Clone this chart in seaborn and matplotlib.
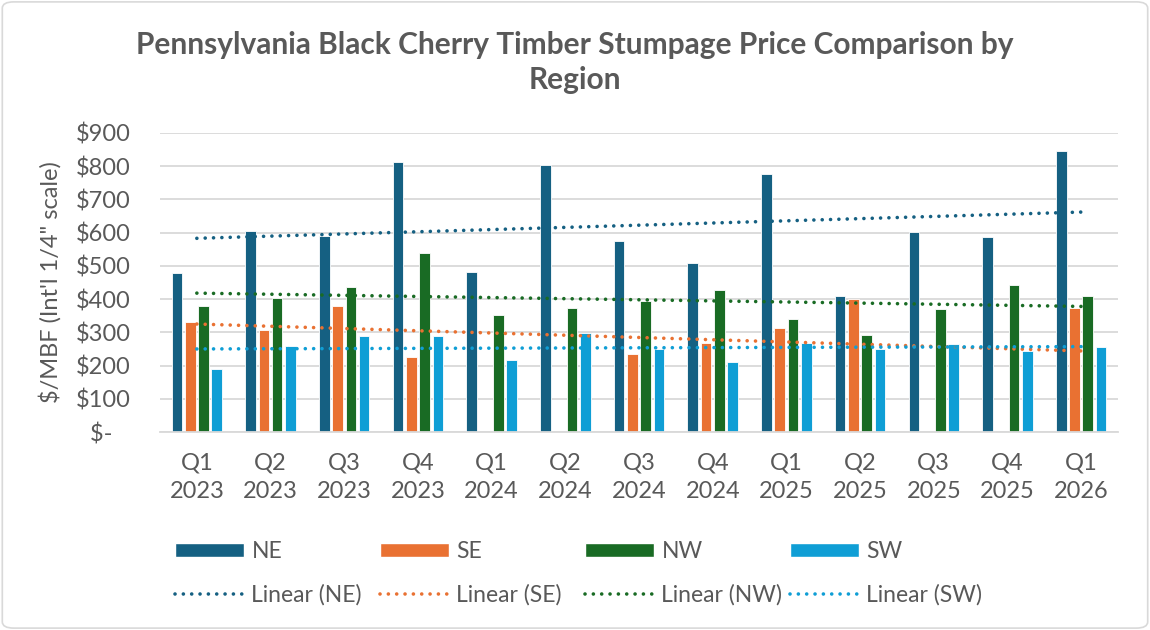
import numpy as np
import pandas as pd
import matplotlib
matplotlib.use("Agg")
import matplotlib.pyplot as plt
from matplotlib.patches import Patch, FancyBboxPatch
from matplotlib.lines import Line2D
import seaborn as sns

quarters = ["Q1\n2023", "Q2\n2023", "Q3\n2023", "Q4\n2023", "Q1\n2024", "Q2\n2024",
            "Q3\n2024", "Q4\n2024", "Q1\n2025", "Q2\n2025", "Q3\n2025", "Q4\n2025", "Q1\n2026"]
regions = ["NE", "SE", "NW", "SW"]
ne = [480, 606, 589, 813, 481, 804, 574, 508, 776, 408, 602, 586, 845]
se = [330, 308, 380, 227, np.nan, np.nan, 235, 267, 314, 399, np.nan, np.nan, 374]
nw = [380, 404, 437, 538, 351, 372, 395, 426, 340, 292, 370, 443, 410]
sw = [191, 258, 290, 290, 216, 298, 249, 212, 269, 251, 265, 243, 255]
# linear trendline values (first and last quarter)
trend_start = [583, 325, 418, 250]
trend_end = [662, 244, 378, 257]
yticks = [0, 100, 200, 300, 400, 500, 600, 700, 800, 900]
ytick_labels = ["$-   ", "$100", "$200", "$300", "$400", "$500", "$600", "$700", "$800", "$900"]

colors = ["#156082", "#E97132", "#196B24", "#0F9ED5"]
txt = "#595959"

sns.set_theme(style="white")
plt.rcParams["font.family"] = ["Lato", "DejaVu Sans"]

series = [ne, se, nw, sw]
df = pd.DataFrame({
    "quarter": quarters * 4,
    "region": sum([[r] * len(quarters) for r in regions], []),
    "price": sum([list(s) for s in series], []),
})
df = df.dropna()

fig = plt.figure(figsize=(11.5, 6.3), dpi=100)
ax = fig.add_axes([160 / 1150, 1 - 432 / 630, 958 / 1150, 299 / 630])

sns.barplot(data=df, x="quarter", y="price", hue="region", order=quarters,
            hue_order=regions, palette=colors, saturation=1, width=0.72, gap=0.2,
            edgecolor="white", linewidth=0.6, errorbar=None, legend=False, ax=ax)

dots = (0, (0.01, 2.3))
for i in range(4):
    ax.plot([0, len(quarters) - 1], [trend_start[i], trend_end[i]], color=colors[i],
            lw=2.6, linestyle=dots, dash_capstyle="round", zorder=5)

ax.set_ylim(0, 900)
ax.set_xlim(-0.5, len(quarters) - 0.5)
ax.set_yticks(yticks)
ax.set_yticklabels(ytick_labels)
ax.yaxis.grid(True, color="#d9d9d9", lw=1.3)
ax.set_axisbelow(True)
for s in ["top", "right", "left"]:
    ax.spines[s].set_visible(False)
ax.spines["bottom"].set_color("#d9d9d9")
ax.spines["bottom"].set_linewidth(1.3)
ax.tick_params(axis="y", length=0, pad=21, labelsize=17, labelcolor=txt)
ax.tick_params(axis="x", length=0, pad=15, labelsize=17, labelcolor=txt)
for lab in ax.get_xticklabels():
    lab.set_linespacing(1.45)
ax.set_xlabel("")
ax.set_ylabel("$/MBF (Int'l 1/4\" scale)", fontsize=17, color=txt)
ax.yaxis.set_label_coords(-98 / 958, 0.5)

fig.text(0.5, 1 - 45 / 630, "Pennsylvania Black Cherry Timber Stumpage Price Comparison by",
         ha="center", va="center", fontsize=21.5, fontweight="bold", color=txt)
fig.text(0.5, 1 - 80 / 630, "Region", ha="center", va="center", fontsize=21.5,
         fontweight="bold", color=txt)

for i, r in enumerate(regions):
    hs = [Patch(facecolor=colors[i], edgecolor="white"),
          Line2D([0], [0], color=colors[i], lw=2.6, linestyle=dots, dash_capstyle="round")]
    ls = [r, f"Linear ({r})"]
    leg = fig.legend(hs, ls, loc="upper left",
                     bbox_to_anchor=((166 + 205 * i) / 1150, 1 - 532 / 630), frameon=False,
                     fontsize=16.5, handlelength=3.0, handleheight=0.55, handletextpad=0.33,
                     labelspacing=0.95, borderaxespad=0)
    for t in leg.get_texts():
        t.set_color(txt)

fig.patches.append(FancyBboxPatch((0.002, 0.003), 0.996, 0.994, boxstyle="round,pad=0,rounding_size=0.01",
                                  transform=fig.transFigure, fill=False, edgecolor="#d9d9d9", lw=1.2))

fig.savefig("out.png", dpi=100, facecolor="white")
